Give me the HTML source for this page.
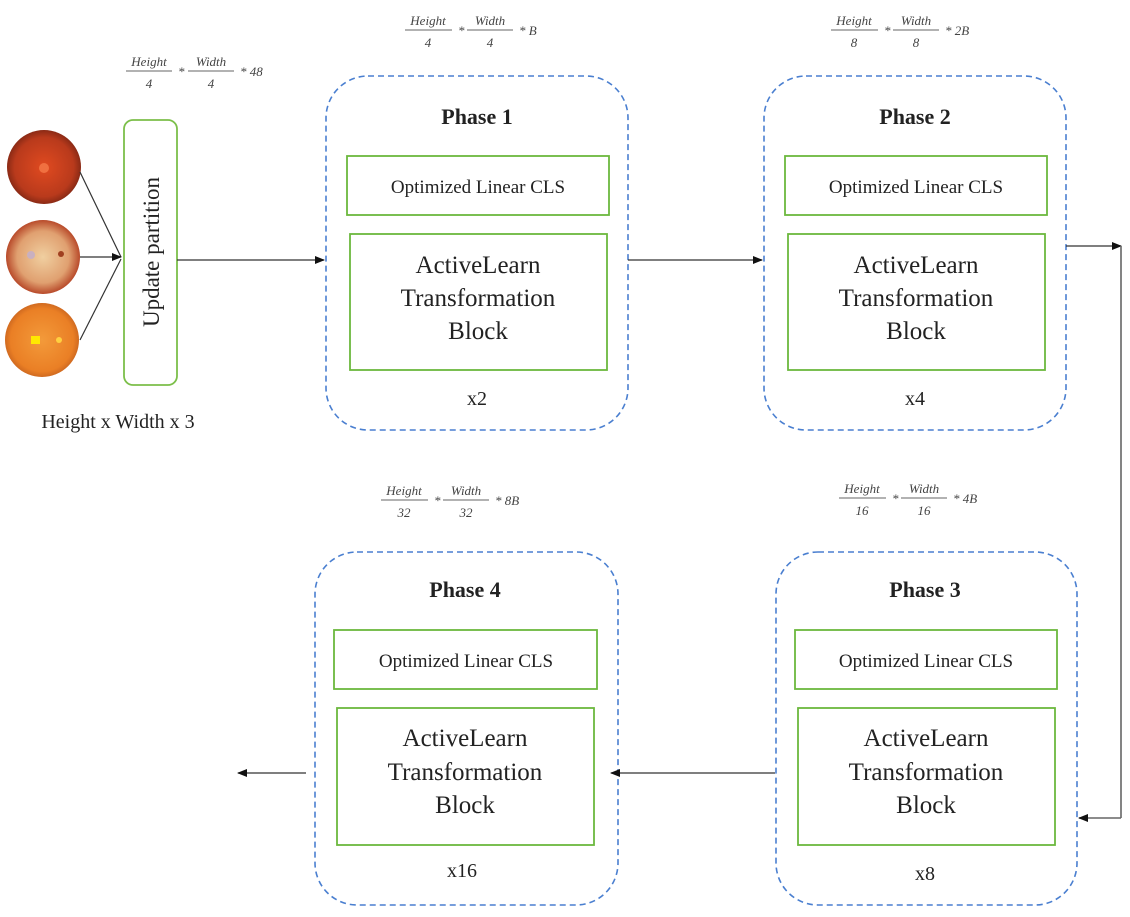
<!DOCTYPE html>
<html><head><meta charset="utf-8"><style>
html,body{margin:0;padding:0;background:#fff;}
svg{display:block;}
.t{font-family:"Liberation Serif",serif;fill:#222;}
.f{font-family:"Liberation Serif",serif;font-style:italic;fill:#444;font-size:13px;}
</style></head><body>
<svg width="1130" height="917" viewBox="0 0 1130 917" xmlns="http://www.w3.org/2000/svg">
<defs>
<marker id="a" markerWidth="10" markerHeight="8" refX="9" refY="4" orient="auto" markerUnits="userSpaceOnUse"><path d="M0,0 L10,4 L0,8 z" fill="#111"/></marker>
<radialGradient id="g1" cx="0.5" cy="0.5" r="0.5"><stop offset="0" stop-color="#e04a20"/><stop offset="0.8" stop-color="#b93a1c"/><stop offset="1" stop-color="#8a2a15"/></radialGradient>
<radialGradient id="g2" cx="0.5" cy="0.5" r="0.5"><stop offset="0" stop-color="#f0cfa0"/><stop offset="0.7" stop-color="#e0a070"/><stop offset="1" stop-color="#b84a2a"/></radialGradient>
<radialGradient id="g3" cx="0.5" cy="0.5" r="0.5"><stop offset="0" stop-color="#f39a3a"/><stop offset="0.85" stop-color="#ea7f25"/><stop offset="1" stop-color="#d06a20"/></radialGradient>
</defs>

<!-- images -->
<circle cx="44" cy="167" r="37" fill="url(#g1)"/>
<circle cx="44" cy="168" r="5" fill="#f07040"/>
<circle cx="43" cy="257" r="37" fill="url(#g2)"/>
<circle cx="31" cy="255" r="4" fill="#c9b0c0"/>
<circle cx="61" cy="254" r="3" fill="#a04020"/>
<circle cx="42" cy="340" r="37" fill="url(#g3)"/>
<rect x="31" y="336" width="9" height="8" fill="#ffe800"/>
<circle cx="59" cy="340" r="3" fill="#ffd040"/>

<!-- input arrows -->
<line x1="80" y1="172" x2="121" y2="257" stroke="#333" stroke-width="1.2"/>
<line x1="80" y1="257" x2="121" y2="257" stroke="#333" stroke-width="1.2" marker-end="url(#a)"/>
<line x1="80" y1="340" x2="121" y2="259" stroke="#333" stroke-width="1.2"/>

<!-- update partition -->
<rect x="124" y="120" width="53" height="265" rx="9" fill="#fff" stroke="#7cbf4a" stroke-width="1.8"/>
<text class="t" font-size="23" transform="translate(159,252) rotate(-90)" text-anchor="middle">Update partition</text>
<text class="t" font-size="20" x="118" y="428" text-anchor="middle">Height x Width x 3</text>

<!-- formula 0 -->
<g>
<text class="f" x="149" y="66" text-anchor="middle">Height</text><line x1="126" y1="71" x2="172" y2="71" stroke="#666"/><text class="f" x="149" y="88" text-anchor="middle">4</text>
<text class="f" x="178" y="76">*</text>
<text class="f" x="211" y="66" text-anchor="middle">Width</text><line x1="188" y1="71" x2="234" y2="71" stroke="#666"/><text class="f" x="211" y="88" text-anchor="middle">4</text>
<text class="f" x="240" y="76" font-style="normal">* 48</text>
</g>

<line x1="177" y1="260" x2="324" y2="260" stroke="#333" stroke-width="1.2" marker-end="url(#a)"/>

<!-- Phase 1 -->
<g>
<text class="f" x="428" y="25" text-anchor="middle">Height</text><line x1="405" y1="30" x2="452" y2="30" stroke="#666"/><text class="f" x="428" y="47" text-anchor="middle">4</text>
<text class="f" x="458" y="35">*</text>
<text class="f" x="490" y="25" text-anchor="middle">Width</text><line x1="467" y1="30" x2="513" y2="30" stroke="#666"/><text class="f" x="490" y="47" text-anchor="middle">4</text>
<text class="f" x="519" y="35">* B</text>
</g>
<rect x="326" y="76" width="302" height="354" rx="42" fill="none" stroke="#4a7fd0" stroke-width="1.6" stroke-dasharray="6,4"/>
<text class="t" font-size="22" font-weight="bold" x="477" y="124" text-anchor="middle">Phase 1</text>
<rect x="347" y="156" width="262" height="59" fill="none" stroke="#6cb83e" stroke-width="1.8"/>
<text class="t" font-size="19" x="478" y="193" text-anchor="middle">Optimized Linear CLS</text>
<rect x="350" y="234" width="257" height="136" fill="none" stroke="#6cb83e" stroke-width="1.8"/>
<text class="t" font-size="25" x="478" y="273" text-anchor="middle">ActiveLearn</text>
<text class="t" font-size="25" x="478" y="306" text-anchor="middle">Transformation</text>
<text class="t" font-size="25" x="478" y="339" text-anchor="middle">Block</text>
<text class="t" font-size="20" x="477" y="405" text-anchor="middle">x2</text>

<line x1="628" y1="260" x2="762" y2="260" stroke="#333" stroke-width="1.2" marker-end="url(#a)"/>

<!-- Phase 2 -->
<g>
<text class="f" x="854" y="25" text-anchor="middle">Height</text><line x1="831" y1="30" x2="878" y2="30" stroke="#666"/><text class="f" x="854" y="47" text-anchor="middle">8</text>
<text class="f" x="884" y="35">*</text>
<text class="f" x="916" y="25" text-anchor="middle">Width</text><line x1="893" y1="30" x2="939" y2="30" stroke="#666"/><text class="f" x="916" y="47" text-anchor="middle">8</text>
<text class="f" x="945" y="35">* 2B</text>
</g>
<rect x="764" y="76" width="302" height="354" rx="42" fill="none" stroke="#4a7fd0" stroke-width="1.6" stroke-dasharray="6,4"/>
<text class="t" font-size="22" font-weight="bold" x="915" y="124" text-anchor="middle">Phase 2</text>
<rect x="785" y="156" width="262" height="59" fill="none" stroke="#6cb83e" stroke-width="1.8"/>
<text class="t" font-size="19" x="916" y="193" text-anchor="middle">Optimized Linear CLS</text>
<rect x="788" y="234" width="257" height="136" fill="none" stroke="#6cb83e" stroke-width="1.8"/>
<text class="t" font-size="25" x="916" y="273" text-anchor="middle">ActiveLearn</text>
<text class="t" font-size="25" x="916" y="306" text-anchor="middle">Transformation</text>
<text class="t" font-size="25" x="916" y="339" text-anchor="middle">Block</text>
<text class="t" font-size="20" x="915" y="405" text-anchor="middle">x4</text>

<!-- connector right -->
<line x1="1066" y1="246" x2="1121" y2="246" stroke="#333" stroke-width="1.2" marker-end="url(#a)"/>
<line x1="1121" y1="246" x2="1121" y2="818" stroke="#666" stroke-width="1.6"/>
<line x1="1121" y1="818" x2="1079" y2="818" stroke="#666" stroke-width="1.6" marker-end="url(#a)"/>

<!-- Phase 4 formula -->
<g>
<text class="f" x="404" y="495" text-anchor="middle">Height</text><line x1="381" y1="500" x2="428" y2="500" stroke="#666"/><text class="f" x="404" y="517" text-anchor="middle">32</text>
<text class="f" x="434" y="505">*</text>
<text class="f" x="466" y="495" text-anchor="middle">Width</text><line x1="443" y1="500" x2="489" y2="500" stroke="#666"/><text class="f" x="466" y="517" text-anchor="middle">32</text>
<text class="f" x="495" y="505">* 8B</text>
</g>
<!-- Phase 3 formula -->
<g>
<text class="f" x="862" y="493" text-anchor="middle">Height</text><line x1="839" y1="498" x2="886" y2="498" stroke="#666"/><text class="f" x="862" y="515" text-anchor="middle">16</text>
<text class="f" x="892" y="503">*</text>
<text class="f" x="924" y="493" text-anchor="middle">Width</text><line x1="901" y1="498" x2="947" y2="498" stroke="#666"/><text class="f" x="924" y="515" text-anchor="middle">16</text>
<text class="f" x="953" y="503">* 4B</text>
</g>

<!-- Phase 4 -->
<rect x="315" y="552" width="303" height="353" rx="42" fill="none" stroke="#4a7fd0" stroke-width="1.6" stroke-dasharray="6,4"/>
<text class="t" font-size="22" font-weight="bold" x="465" y="597" text-anchor="middle">Phase 4</text>
<rect x="334" y="630" width="263" height="59" fill="none" stroke="#6cb83e" stroke-width="1.8"/>
<text class="t" font-size="19" x="466" y="667" text-anchor="middle">Optimized Linear CLS</text>
<rect x="337" y="708" width="257" height="137" fill="none" stroke="#6cb83e" stroke-width="1.8"/>
<text class="t" font-size="25" x="465" y="746" text-anchor="middle">ActiveLearn</text>
<text class="t" font-size="25" x="465" y="780" text-anchor="middle">Transformation</text>
<text class="t" font-size="25" x="465" y="813" text-anchor="middle">Block</text>
<text class="t" font-size="20" x="462" y="877" text-anchor="middle">x16</text>

<!-- Phase 3 -->
<rect x="776" y="552" width="301" height="353" rx="42" fill="none" stroke="#4a7fd0" stroke-width="1.6" stroke-dasharray="6,4"/>
<text class="t" font-size="22" font-weight="bold" x="925" y="597" text-anchor="middle">Phase 3</text>
<rect x="795" y="630" width="262" height="59" fill="none" stroke="#6cb83e" stroke-width="1.8"/>
<text class="t" font-size="19" x="926" y="667" text-anchor="middle">Optimized Linear CLS</text>
<rect x="798" y="708" width="257" height="137" fill="none" stroke="#6cb83e" stroke-width="1.8"/>
<text class="t" font-size="25" x="926" y="746" text-anchor="middle">ActiveLearn</text>
<text class="t" font-size="25" x="926" y="780" text-anchor="middle">Transformation</text>
<text class="t" font-size="25" x="926" y="813" text-anchor="middle">Block</text>
<text class="t" font-size="20" x="925" y="880" text-anchor="middle">x8</text>

<line x1="775" y1="773" x2="611" y2="773" stroke="#333" stroke-width="1.2" marker-end="url(#a)"/>
<line x1="306" y1="773" x2="238" y2="773" stroke="#333" stroke-width="1.2" marker-end="url(#a)"/>
</svg>
</body></html>
